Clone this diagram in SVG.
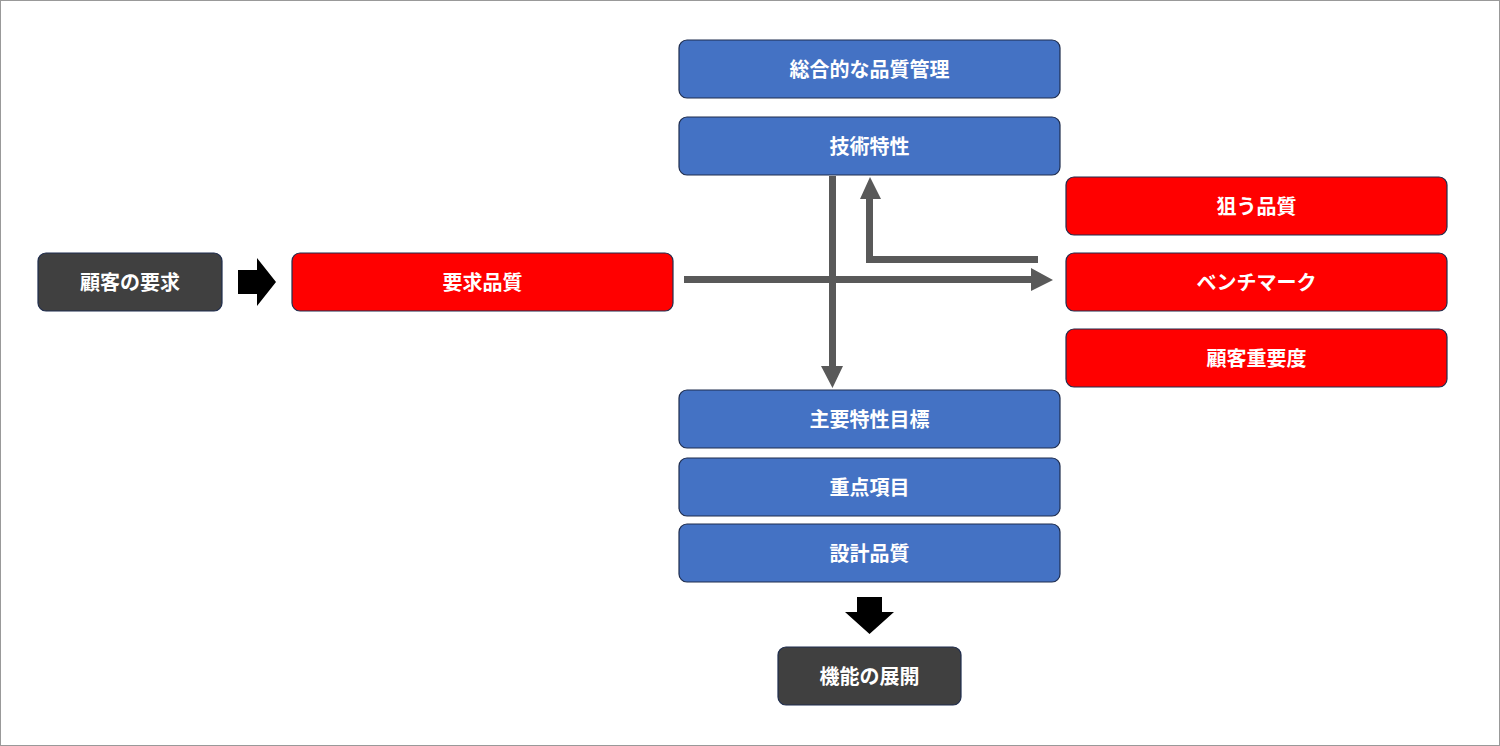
<svg xmlns="http://www.w3.org/2000/svg" width="1500" height="746" viewBox="0 0 1500 746">
<style>
.b rect{stroke:#1f2d4e;stroke-width:1.2}
.blue rect{fill:#4472c4}.red rect{fill:#ff0000}.dark rect{fill:#404040}
text{font-family:"Noto Sans CJK JP","Noto Sans",sans-serif;font-weight:bold;font-size:20px;fill:#fff;text-anchor:middle;dominant-baseline:central}
.c{fill:#595959}
</style>
<rect x="0.5" y="0.5" width="1499" height="745" fill="#fff" stroke="#999"/>
<g id="n1" class="b blue"><rect x="679" y="40" width="381" height="58" rx="8"/><text x="869.5" y="68">総合的な品質管理</text></g>
<g id="n2" class="b blue"><rect x="679" y="117" width="381" height="58" rx="8"/><text x="869.5" y="145">技術特性</text></g>
<g id="n3" class="b red"><rect x="1066" y="177" width="381" height="58" rx="8"/><text x="1256.5" y="205">狙う品質</text></g>
<g id="n4" class="b red"><rect x="1066" y="253" width="381" height="58" rx="8"/><text x="1256.5" y="281">ベンチマーク</text></g>
<g id="n5" class="b red"><rect x="1066" y="329" width="381" height="58" rx="8"/><text x="1256.5" y="357">顧客重要度</text></g>
<g id="n6" class="b blue"><rect x="679" y="390" width="381" height="58" rx="8"/><text x="869.5" y="418">主要特性目標</text></g>
<g id="n7" class="b blue"><rect x="679" y="458" width="381" height="58" rx="8"/><text x="869.5" y="486">重点項目</text></g>
<g id="n8" class="b blue"><rect x="679" y="524" width="381" height="58" rx="8"/><text x="869.5" y="552">設計品質</text></g>
<g id="n9" class="b dark"><rect x="38" y="253" width="184" height="58" rx="8"/><text x="130" y="281">顧客の要求</text></g>
<g id="n10" class="b red"><rect x="292" y="253" width="381" height="58" rx="8"/><text x="482.5" y="281">要求品質</text></g>
<g id="n11" class="b dark"><rect x="778" y="647" width="183" height="58" rx="8"/><text x="869.5" y="675">機能の展開</text></g>
<g id="connectors">
<polygon points="238,270 257,270 257,258 276,282 257,306 257,294 238,294" fill="#000"/>
<polygon points="857,597 882,597 882,612 894,612 869.5,634 845,612 857,612" fill="#000"/>
<polygon class="c" points="684,276 1031,276 1031,268 1053,280 1031,291 1031,283 684,283"/>
<polygon class="c" points="829,176 836,176 836,366 843,366 832.5,388 821,366 829,366"/>
<polygon class="c" points="1038,256 1038,263 866,263 866,199 860,199 870,177 881,199 873,199 873,256"/>
</g>
</svg>
